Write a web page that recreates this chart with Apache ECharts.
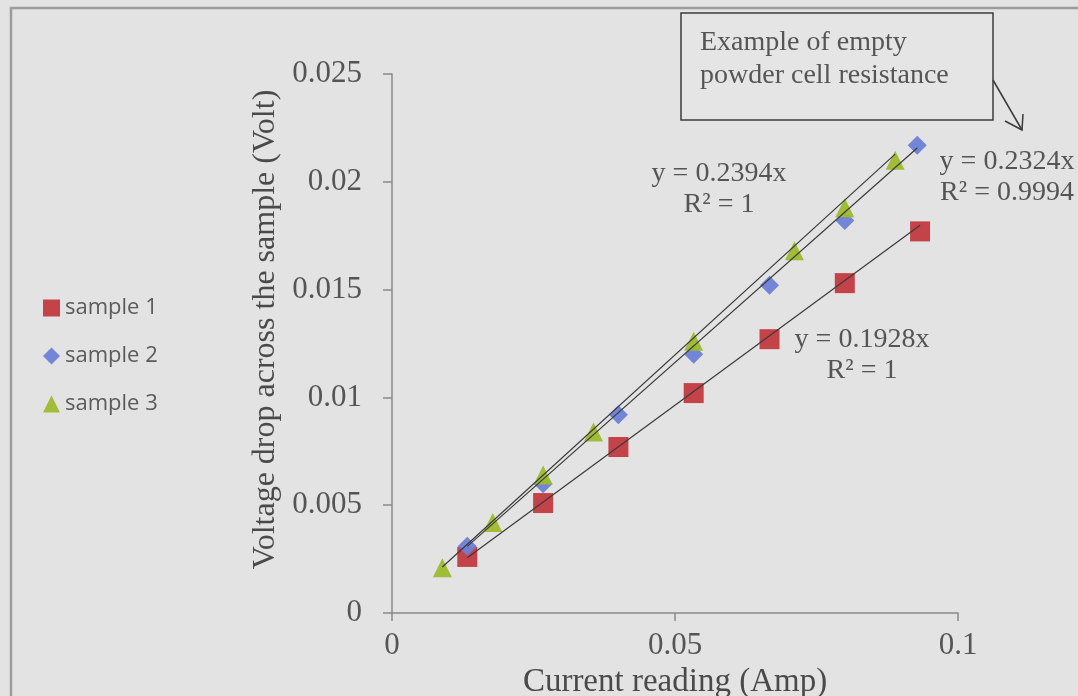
<!DOCTYPE html>
<html>
<head>
<meta charset="utf-8">
<script src="https://cdn.jsdelivr.net/npm/echarts@6/dist/echarts.min.js"></script>
<style>
  html, body { margin: 0; padding: 0; background: #e3e3e3; }
  #chart { width: 1078px; height: 696px; }
</style>
</head>
<body>
<div id="chart"></div>
<script>
// Current (A) and voltage drop (V) readings for each powder sample
const seriesNames = ['sample 1', 'sample 2', 'sample 3'];

const currentS1 = [0.0133, 0.0267, 0.0400, 0.0533, 0.0667, 0.0800, 0.0933];
const voltS1    = [0.0026, 0.0051, 0.0077, 0.0102, 0.0127, 0.0153, 0.0177];

const currentS2 = [0.0133, 0.0267, 0.0400, 0.0533, 0.0667, 0.0800, 0.0928];
const voltS2    = [0.0031, 0.0060, 0.0092, 0.0120, 0.0152, 0.0182, 0.0217];

const currentS3 = [0.0089, 0.0178, 0.0267, 0.0356, 0.0533, 0.0711, 0.0800, 0.0889];
const voltS3    = [0.0021, 0.0042, 0.0064, 0.0084, 0.0126, 0.0168, 0.0188, 0.0210];

// Linear fits through the origin (slope, R²)
const slopes = [0.1928, 0.2324, 0.2394];
const rSquared = ['1', '0.9994', '1'];

// Axis ticks
const xTicks = { min: 0, max: 0.1, step: 0.05 };
const yTicks = { min: 0, max: 0.025, step: 0.005 };

const colors = ['#c23a40', '#6b7fd6', '#9dba2e'];
const symbols = ['rect', 'diamond', 'triangle'];
const symbolSizes = [20, 19, 19];

const xs = [currentS1, currentS2, currentS3];
const ys = [voltS1, voltS2, voltS3];

const serif = '"Liberation Serif", "Times New Roman", serif';
const textGray = '#555555';

function pairs(x, y) { return x.map((v, i) => [v, y[i]]); }
function fitLine(x, m) {
  const lo = Math.min.apply(null, x), hi = Math.max.apply(null, x);
  return [[lo, m * lo], [hi, m * hi]];
}
function tickFmt(v) { return String(parseFloat(v.toPrecision(6))); }

const scatterSeries = seriesNames.map((name, i) => ({
  name: name,
  type: 'scatter',
  data: pairs(xs[i], ys[i]),
  symbol: symbols[i],
  symbolSize: symbolSizes[i],
  itemStyle: { color: colors[i], opacity: 0.95 },
  z: 2
}));

const fitSeries = seriesNames.map((name, i) => ({
  name: name + ' fit',
  type: 'line',
  data: fitLine(xs[i], slopes[i]),
  symbol: 'none',
  silent: true,
  lineStyle: { color: '#3a3a3a', width: 1.2 },
  z: 3
}));

function eqText(i) {
  return 'y = ' + slopes[i].toFixed(4) + 'x\nR² = ' + rSquared[i];
}
function eqLabel(i, cx, cy) {
  return {
    type: 'text',
    x: cx, y: cy,
    z: 10,
    style: {
      text: eqText(i),
      font: '28px ' + serif,
      fill: textGray,
      align: 'center', verticalAlign: 'middle',
      textAlign: 'center', textVerticalAlign: 'middle',
      lineHeight: 31
    }
  };
}

const chart = echarts.init(document.getElementById('chart'));
chart.setOption({
  backgroundColor: '#e3e3e3',
  animation: false,
  grid: { left: 392, right: 120, top: 74, bottom: 83, containLabel: false, outerBoundsMode: 'none' },
  legend: {
    data: seriesNames,
    orient: 'vertical',
    left: 38,
    top: 292,
    itemWidth: 17,
    itemHeight: 17,
    itemGap: 26,
    textStyle: {
      fontFamily: '"Open Sans", sans-serif',
      fontSize: 22,
      lineHeight: 22,
      color: '#5a5a5a'
    },
    selectedMode: false
  },
  xAxis: {
    type: 'value',
    min: xTicks.min, max: xTicks.max, interval: xTicks.step,
    name: 'Current reading (Amp)',
    nameLocation: 'middle',
    nameGap: 42,
    nameTextStyle: { fontFamily: serif, fontSize: 33, color: '#4a4a4a' },
    axisLine: { show: true, onZero: false, lineStyle: { color: '#8a8a8a', width: 1.5 } },
    axisTick: { show: true, inside: false, length: 8, lineStyle: { color: '#8a8a8a', width: 1.5 } },
    axisLabel: { margin: 17, fontFamily: serif, fontSize: 31, color: textGray, formatter: tickFmt },
    splitLine: { show: false }
  },
  yAxis: {
    type: 'value',
    min: yTicks.min, max: yTicks.max, interval: yTicks.step,
    name: 'Voltage drop across the sample (Volt)',
    nameLocation: 'middle',
    nameGap: 104,
    nameTextStyle: { fontFamily: serif, fontSize: 32, color: '#4a4a4a', padding: [0, 0, 0, 28] },
    axisLine: { show: true, onZero: false, lineStyle: { color: '#8a8a8a', width: 1.5 } },
    axisTick: { show: true, inside: false, length: 9, lineStyle: { color: '#8a8a8a', width: 1.5 } },
    axisLabel: { margin: 30, fontFamily: serif, fontSize: 31, color: textGray, formatter: tickFmt },
    splitLine: { show: false }
  },
  series: scatterSeries.concat(fitSeries),
  graphic: [
    // outer chart frame
    { type: 'polyline', z: 1, shape: { points: [[11, 696], [11, 8], [1078, 8]] },
      style: { stroke: '#9c9c9c', lineWidth: 2.5, fill: null } },
    // callout box
    { type: 'rect', z: 8, shape: { x: 681, y: 13, width: 312, height: 107 },
      style: { fill: '#e5e5e5', stroke: '#3c3c3c', lineWidth: 1.5 } },
    { type: 'text', z: 9, x: 700, y: 43,
      style: { text: 'Example of empty', font: '28px ' + serif, fill: textGray,
               verticalAlign: 'middle', textVerticalAlign: 'middle' } },
    { type: 'text', z: 9, x: 700, y: 76,
      style: { text: 'powder cell resistance', font: '28px ' + serif, fill: textGray,
               verticalAlign: 'middle', textVerticalAlign: 'middle' } },
    // callout arrow
    { type: 'polyline', z: 9, shape: { points: [[993, 80], [1022, 130]] },
      style: { stroke: '#3a3a3a', lineWidth: 1.5, fill: null } },
    { type: 'polyline', z: 9, shape: { points: [[1005, 121], [1022, 130], [1023, 114]] },
      style: { stroke: '#3a3a3a', lineWidth: 1.5, fill: null } },
    // fit equations
    eqLabel(2, 719, 189),
    eqLabel(0, 862, 355),
    eqLabel(1, 1007, 177)
  ]
});
</script>
</body>
</html>
